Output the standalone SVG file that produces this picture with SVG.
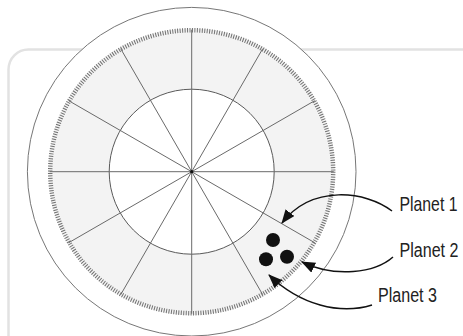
<svg xmlns="http://www.w3.org/2000/svg" width="463" height="336" viewBox="0 0 463 336">
  <style>
    .spoke { stroke: #6a6a6a; stroke-width: 1; fill: none; }
    .conn { stroke: #111; stroke-width: 1.5; fill: none; marker-end: url(#arrow); }
    .label { font-family: "Liberation Sans", "DejaVu Sans", sans-serif; font-size: 20px; fill: #222; }
    .planet { fill: #111; }
  </style>
  <defs>
    <marker id="arrow" markerUnits="userSpaceOnUse" markerWidth="14" markerHeight="11" viewBox="0 0 14 11" refX="13" refY="5.5" orient="auto">
      <path d="M0,0 L14,5.5 L0,11 z" fill="#111"/>
    </marker>
  </defs>
  <rect width="463" height="336" fill="#ffffff"/>
  <g id="frame">
    <rect x="8.5" y="49.5" width="480" height="320" rx="20" ry="20" fill="#ffffff" stroke="#e2e2e2" stroke-width="2.5"/>
  </g>
  <g id="wheel" transform="translate(191.7,171.7)">
    <circle r="164.3" fill="#ffffff" stroke="#777" stroke-width="1"/>
    <circle r="143.5" fill="#f3f3f3"/>
    <circle r="141.5" fill="none" stroke="#707070" stroke-width="4.5" stroke-dasharray="1 1.4696"/>
    <circle r="82.5" fill="#ffffff" stroke="#5a5a5a" stroke-width="1"/>
    <line class="spoke" x1="-142" y1="0" x2="142" y2="0"/>
    <line class="spoke" x1="0" y1="-142" x2="0" y2="142"/>
    <line class="spoke" x1="-122.98" y1="-71" x2="122.98" y2="71"/>
    <line class="spoke" x1="-122.98" y1="71" x2="122.98" y2="-71"/>
    <line class="spoke" x1="-71" y1="-122.98" x2="71" y2="122.98"/>
    <line class="spoke" x1="-71" y1="122.98" x2="71" y2="-122.98"/>
    <circle r="1.6" fill="#111"/>
  </g>
  <g id="planet-1"><circle class="planet" cx="273" cy="240" r="7"/></g>
  <g id="planet-2"><circle class="planet" cx="287" cy="256.7" r="7"/></g>
  <g id="planet-3"><circle class="planet" cx="266" cy="259.3" r="7"/></g>
  <g id="connectors">
    <path class="conn" d="M392,211 C366,191 312,184 282,223"/>
    <path class="conn" d="M393,257 C375,273 335,278 302,262"/>
    <path class="conn" d="M372,305 C340,315 300,305 269,275"/>
  </g>
  <g id="label-1"><text class="label" transform="translate(399.5,211) scale(0.79,1)">Planet 1</text></g>
  <g id="label-2"><text class="label" transform="translate(399.5,257) scale(0.804,1)">Planet 2</text></g>
  <g id="label-3"><text class="label" transform="translate(378,302) scale(0.804,1)">Planet 3</text></g>
</svg>
